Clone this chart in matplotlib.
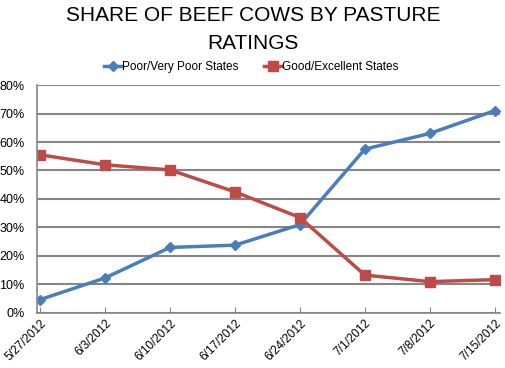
import matplotlib
matplotlib.use("Agg")
import matplotlib.pyplot as plt
import numpy as np

dates = ["5/27/2012", "6/3/2012", "6/10/2012", "6/17/2012",
         "6/24/2012", "7/1/2012", "7/8/2012", "7/15/2012"]
poor = [4.7, 12.3, 23.0, 23.8, 31.0, 57.5, 63.0, 71.0]
good = [55.5, 52.0, 50.2, 42.5, 33.5, 13.3, 11.0, 11.7]

plt.rcParams["font.family"] = ["Liberation Sans", "DejaVu Sans"]

fig = plt.figure(figsize=(5.06, 3.68), dpi=100)
ax = fig.add_axes([0.073, 0.1495, 0.915, 0.6195])

x = np.arange(len(dates))
ax.plot(x, poor, color="#4a7ebb", lw=2.5, marker="D", ms=5,
        label="Poor/Very Poor States")
ax.plot(x, good, color="#be4b48", lw=2.5, marker="s", ms=6.5,
        label="Good/Excellent States")

ax.set_ylim(0, 80)
ax.set_xlim(-0.05, 7.08)
ax.set_yticks(range(0, 81, 10))
ax.set_yticklabels([f"{v}%" for v in range(0, 81, 10)], fontsize=9)
ax.set_xticks(x)
ax.set_xticklabels(dates, rotation=45, ha="right", rotation_mode="anchor",
                   fontsize=8.5)
ax.yaxis.grid(True, color="#868686", lw=1.5)
ax.set_axisbelow(True)
for s in ["top", "right"]:
    ax.spines[s].set_visible(False)
for s in ["left", "bottom"]:
    ax.spines[s].set_color("#868686")
    ax.spines[s].set_linewidth(1.2)
ax.tick_params(axis="y", length=0, pad=9)
ax.tick_params(axis="x", length=4, color="#868686", direction="in", pad=3)

fig.text(0.5, 0.985, "SHARE OF BEEF COWS BY PASTURE\nRATINGS", ha="center",
         va="top", fontsize=15, linespacing=1.63)
fig.legend(loc="center", bbox_to_anchor=(0.497, 0.818), ncol=2,
           frameon=False, fontsize=8.5, handlelength=1.5, columnspacing=2.2,
           handletextpad=0.0)

fig.savefig("out.png", dpi=100)
